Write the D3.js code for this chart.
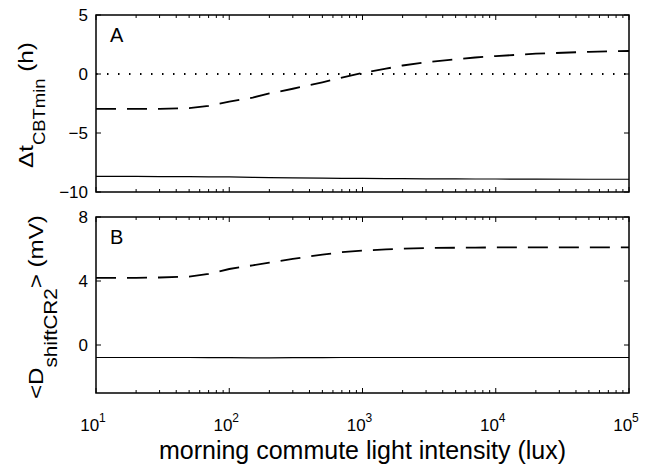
<!DOCTYPE html>
<html>
<head>
<meta charset="utf-8">
<title>Morning commute light intensity</title>
<script src="https://cdnjs.cloudflare.com/ajax/libs/d3/7.8.5/d3.min.js"></script>
<style>
  body { margin: 0; background: #fff; }
  svg { display: block; font-family: "Liberation Sans", Arial, Helvetica, sans-serif; }
  .frame { fill: none; stroke: #000; stroke-width: 1.5px; }
  .tick line { stroke: #000; stroke-width: 1px; }
</style>
</head>
<body>
<div id="chart"></div>
<script>
// light intensity (lux) sampled along the curves
var lux = [10, 20, 30, 50, 70, 100, 150, 200, 300, 500, 700, 1000, 1500, 2000, 3000, 5000, 7000, 10000, 20000, 50000, 100000];

// panel A: shift of CBTmin (h)
var shiftDashed = [-2.95, -2.95, -2.95, -2.9, -2.7, -2.35, -2.0, -1.65, -1.25, -0.7, -0.3, 0.1, 0.45, 0.72, 1.0, 1.25, 1.4, 1.52, 1.72, 1.88, 1.95];
var shiftSolid = [-8.67, -8.68, -8.69, -8.7, -8.71, -8.72, -8.76, -8.78, -8.8, -8.82, -8.84, -8.85, -8.86, -8.87, -8.88, -8.89, -8.9, -8.9, -8.91, -8.92, -8.92];

// panel B: <D_shiftCR2> (mV)
var dDashed = [4.2, 4.2, 4.22, 4.28, 4.45, 4.75, 4.98, 5.15, 5.38, 5.65, 5.8, 5.9, 5.98, 6.02, 6.06, 6.08, 6.09, 6.1, 6.1, 6.1, 6.1];
var dSolid = [-0.78, -0.78, -0.78, -0.78, -0.79, -0.79, -0.8, -0.8, -0.79, -0.79, -0.78, -0.78, -0.78, -0.78, -0.78, -0.78, -0.78, -0.78, -0.78, -0.78, -0.78];

var xTicks = [10, 100, 1000, 10000, 100000];
var yTicksA = [-10, -5, 0, 5];
var yTicksB = [0, 4, 8];

var width = 655, height = 465;
var left = 96, right = 629;

var svg = d3.select("#chart").append("svg")
  .attr("width", width)
  .attr("height", height);

var x = d3.scaleLog().domain([10, 100000]).range([left, right]);

// minor ticks for the log axis
var minorTicks = [];
for (var p = 1; p < 5; p++) {
  for (var m = 2; m < 10; m++) minorTicks.push(m * Math.pow(10, p));
}

function drawPanel(top, bottom, domain, yTicks, letter, lines, zeroLine) {
  var y = d3.scaleLinear().domain(domain).range([bottom, top]);
  var g = svg.append("g");

  var line = d3.line()
    .x(function(d) { return x(d[0]); })
    .y(function(d) { return y(d[1]); });

  if (zeroLine) {
    g.append("line")
      .attr("x1", left).attr("x2", right)
      .attr("y1", y(0)).attr("y2", y(0))
      .attr("stroke", "#000")
      .attr("stroke-width", 2)
      .attr("stroke-dasharray", "1.5,9.5");
  }

  lines.forEach(function(l) {
    g.append("path")
      .datum(lux.map(function(v, i) { return [v, l.values[i]]; }))
      .attr("d", line)
      .attr("fill", "none")
      .attr("stroke", "#000")
      .attr("stroke-width", l.dash ? 1.8 : 1.2)
      .attr("stroke-dasharray", l.dash ? "20,11" : null);
  });

  // inward ticks, MATLAB style, on all four sides
  var tk = g.append("g").attr("class", "tick");
  xTicks.forEach(function(t) {
    tk.append("line").attr("x1", x(t)).attr("x2", x(t)).attr("y1", bottom).attr("y2", bottom - 5);
    tk.append("line").attr("x1", x(t)).attr("x2", x(t)).attr("y1", top).attr("y2", top + 5);
  });
  minorTicks.forEach(function(t) {
    tk.append("line").attr("x1", x(t)).attr("x2", x(t)).attr("y1", bottom).attr("y2", bottom - 3);
    tk.append("line").attr("x1", x(t)).attr("x2", x(t)).attr("y1", top).attr("y2", top + 3);
  });
  yTicks.forEach(function(t) {
    tk.append("line").attr("x1", left).attr("x2", left + 5).attr("y1", y(t)).attr("y2", y(t));
    tk.append("line").attr("x1", right).attr("x2", right - 5).attr("y1", y(t)).attr("y2", y(t));
    g.append("text")
      .attr("x", left - 8)
      .attr("y", y(t))
      .attr("dy", "0.36em")
      .attr("text-anchor", "end")
      .attr("font-size", 17)
      .text(t < 0 ? "\u2212" + Math.abs(t) : t);
  });

  g.append("rect")
    .attr("class", "frame")
    .attr("x", left).attr("y", top)
    .attr("width", right - left).attr("height", bottom - top);

  g.append("text")
    .attr("x", left + 14)
    .attr("y", top + 27)
    .attr("font-size", 20)
    .text(letter);

  return y;
}

drawPanel(15, 192, [-10, 5], yTicksA, "A",
  [{values: shiftSolid, dash: false}, {values: shiftDashed, dash: true}], true);
drawPanel(217, 393, [-3, 8], yTicksB, "B",
  [{values: dSolid, dash: false}, {values: dDashed, dash: true}], false);

// x tick labels as powers of ten
xTicks.forEach(function(t) {
  var lbl = svg.append("text")
    .attr("x", x(t) - 3)
    .attr("y", 431)
    .attr("text-anchor", "middle")
    .attr("font-size", 17);
  lbl.append("tspan").text("10");
  lbl.append("tspan")
    .attr("dy", -9)
    .attr("font-size", 12)
    .text(Math.round(Math.log10(t)));
});

svg.append("text")
  .attr("x", (left + right) / 2 + 0)
  .attr("y", 459)
  .attr("text-anchor", "middle")
  .attr("font-size", 25)
  .text("morning commute light intensity (lux)");

// y labels with subscripts, stretched along the text to the span in the figure
function yLabel(cx, cy, span, parts, subSize, subShift) {
  var g = svg.append("g").attr("transform", "translate(" + cx + "," + cy + ") rotate(-90)");
  var t = g.append("text").attr("font-size", 21);
  t.append("tspan").text(parts[0]);
  t.append("tspan").attr("dy", subShift).attr("font-size", subSize).text(parts[1]);
  t.append("tspan").attr("dy", -subShift).text(parts[2]);
  var w = t.node().getComputedTextLength();
  var k = span / w;
  t.attr("transform", "scale(" + k + ",1) translate(" + (-w / 2) + ",0)");
}

yLabel(33, 105, 126, ["\u0394t", "CBTmin", " (h)"], 16, 12);
yLabel(43, 307, 184, ["<D", "shiftCR2", "> (mV)"], 18, 14);
</script>
</body>
</html>
